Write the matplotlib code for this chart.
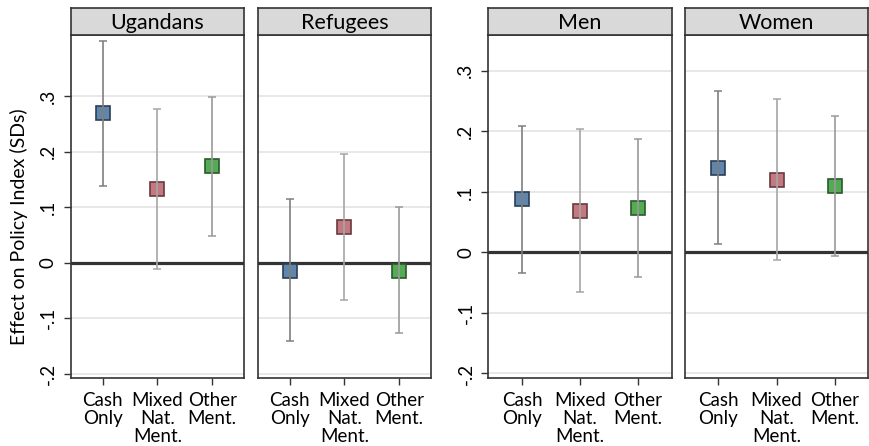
import numpy as np
import matplotlib.pyplot as plt

plt.rcParams['font.family'] = ['Lato', 'DejaVu Sans']

# data
arms = ['Cash\nOnly', 'Mixed\nNat.\nMent.', 'Other\nMent.']
panels = ['Ugandans', 'Refugees', 'Men', 'Women']
est = {
    'Ugandans': [0.269, 0.133, 0.174],
    'Refugees': [-0.014, 0.064, -0.014],
    'Men': [0.088, 0.069, 0.073],
    'Women': [0.140, 0.120, 0.110],
}
lo = {
    'Ugandans': [0.139, -0.011, 0.049],
    'Refugees': [-0.141, -0.067, -0.127],
    'Men': [-0.034, -0.066, -0.041],
    'Women': [0.014, -0.013, -0.006],
}
hi = {
    'Ugandans': [0.399, 0.277, 0.299],
    'Refugees': [0.115, 0.195, 0.100],
    'Men': [0.209, 0.203, 0.188],
    'Women': [0.267, 0.254, 0.225],
}
yticks = [-0.2, -0.1, 0, 0.1, 0.2, 0.3]
ytick_labels = ['-.2', '-.1', '0', '.1', '.2', '.3']

face = ['#6186ab', '#c27a80', '#55ab55']
edge = ['#2c3e55', '#6a3a3e', '#2a5a2a']
bar_col = ['#7f7f7f', '#a6a6a6', '#9a9a9a']

W, H = 869, 446
fig = plt.figure(figsize=(W / 100, H / 100), dpi=100)

# panel boxes in pixels (left, right)
boxes = [(70.7, 244), (257.7, 431), (488.3, 671.7), (684.7, 868.3)]
top, bottom, strip_top = 35, 378.3, 8.3
ylims = [(-0.208, 0.41), (-0.208, 0.41), (-0.208, 0.359), (-0.208, 0.359)]
x = np.arange(1, 4)

for i, name in enumerate(panels):
    l, r = boxes[i]
    ax = fig.add_axes([l / W, 1 - bottom / H, (r - l) / W, (bottom - top) / H])
    ax.set_xlim(0.42, 3.58)
    ax.set_ylim(*ylims[i])
    for yt in yticks:
        if yt != 0:
            ax.axhline(yt, color='#e4e4e4', lw=1.2, zorder=0)
    ax.axhline(0, color='#333333', lw=2.3, zorder=1)
    e = np.array(est[name])
    for j in range(3):
        ax.errorbar(x[j], e[j], yerr=[[e[j] - lo[name][j]], [hi[name][j] - e[j]]],
                    fmt='none', ecolor=bar_col[j], elinewidth=1.2, capsize=3,
                    capthick=1.1, zorder=4)
        ax.plot(x[j], e[j], marker='s', ms=10.5, mfc=face[j], mec=edge[j],
                mew=1.2, ls='none', zorder=3)
    ax.set_xticks(x)
    ax.set_xticklabels(arms, fontsize=13.5, linespacing=1.08)
    ax.tick_params(axis='x', length=5, width=1, color='#333333', pad=5)
    ax.set_yticks(yticks)
    if i % 2 == 0:
        ax.set_yticklabels(ytick_labels, rotation=90, va='center', fontsize=13.5)
        ax.tick_params(axis='y', length=5, width=1, color='#333333', pad=5)
    else:
        ax.tick_params(axis='y', length=0, labelleft=False)
    for s in ax.spines.values():
        s.set_color('#333333')
        s.set_linewidth(1.2)

    # strip on top
    sax = fig.add_axes([l / W, 1 - top / H, (r - l) / W, (top - strip_top) / H])
    sax.set_facecolor('#d9d9d9')
    sax.set_xticks([])
    sax.set_yticks([])
    for s in sax.spines.values():
        s.set_color('#333333')
        s.set_linewidth(1.2)
    sax.text(0.5, 0.45, name, transform=sax.transAxes, ha='center', va='center',
             fontsize=15.5)

fig.text(19 / W, 1 - 227 / H, 'Effect on Policy Index (SDs)', rotation=90,
         ha='center', va='center', fontsize=14)

fig.savefig('out.png', dpi=100)
